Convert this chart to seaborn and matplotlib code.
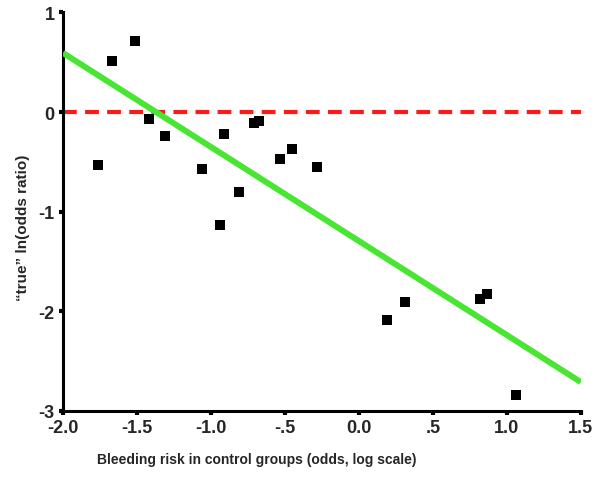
import matplotlib
matplotlib.use("Agg")
import matplotlib.pyplot as plt
import seaborn as sns
import pandas as pd

x_vals = [-1.764, -1.669, -1.514, -1.419, -1.311, -1.061, -0.912, -0.939, -0.811,
          -0.709, -0.676, -0.534, -0.453, -0.284, 0.191, 0.311, 0.818, 0.863, 1.059]
y_vals = [-0.527, 0.517, 0.718, -0.065, -0.236, -0.567, -0.216, -1.13, -0.80,
          -0.105, -0.085, -0.467, -0.366, -0.547, -2.087, -1.91, -1.88, -1.83, -2.84]
fit_x = [-2.0, 1.5]
fit_y = [0.594, -2.71]
ref_x = [-2.0, 1.5]
ref_y = [0.0, 0.0]
xticks = [-2.0, -1.5, -1.0, -0.5, 0.0, 0.5, 1.0, 1.5]
xtick_labels = ["-2.0", "-1.5", "-1.0", "-.5", "0.0", ".5", "1.0", "1.5"]
yticks = [-3, -2, -1, 0, 1]
ytick_labels = ["-3", "-2", "-1", "0", "1"]

sns.set_theme(style="white")
plt.rcParams['font.family'] = ['Liberation Sans', 'DejaVu Sans']

fig = plt.figure(figsize=(6, 4.81), dpi=100)
ax = fig.add_axes([0.105, 0.1435, 0.863, 0.8285])

pts = pd.DataFrame({"x": x_vals, "y": y_vals})
ref = pd.DataFrame({"x": ref_x, "y": ref_y})
fit = pd.DataFrame({"x": fit_x, "y": fit_y})

sns.lineplot(data=ref, x="x", y="y", ax=ax, color="#ff1a1a", lw=3.0,
             linestyle=(0, (3.3, 2.0)), zorder=2)
sns.lineplot(data=fit, x="x", y="y", ax=ax, color="#48e632", lw=4.3,
             zorder=3, solid_capstyle="butt")
sns.scatterplot(data=pts, x="x", y="y", ax=ax, marker="s", s=42,
                color="black", edgecolor="black", linewidth=0, zorder=4)

ax.set_xlim(-2.0, 1.5)
ax.set_ylim(-3, 1)
ax.set_xticks(xticks)
ax.set_xticklabels(xtick_labels, fontsize=13, fontweight="bold")
ax.set_yticks(yticks)
ax.set_yticklabels(ytick_labels, fontsize=13, fontweight="bold")
for s in ["top", "right"]:
    ax.spines[s].set_visible(False)
for s in ["left", "bottom"]:
    ax.spines[s].set_linewidth(2.2)
    ax.spines[s].set_color("black")
ax.tick_params(axis="both", which="major", length=3, width=3, color="black",
               direction="out", pad=3, bottom=True, left=True)
ax.set_xlabel("Bleeding risk in control groups (odds, log scale)",
              fontsize=10, fontweight="bold")
ax.set_ylabel("\u201ctrue\u201d ln(odds ratio)", fontsize=11, fontweight="bold")
# label positions in axes coords
ax.xaxis.set_label_coords((257 - 63) / 518, -(460 - 412) / 398.5)
ax.xaxis.label.set_va("center")
ax.yaxis.set_label_coords(-(63 - 23) / 518, (412 - 228) / 398.5)
ax.yaxis.label.set_va("center")
ax.grid(False)

fig.savefig("out.png", dpi=100)
